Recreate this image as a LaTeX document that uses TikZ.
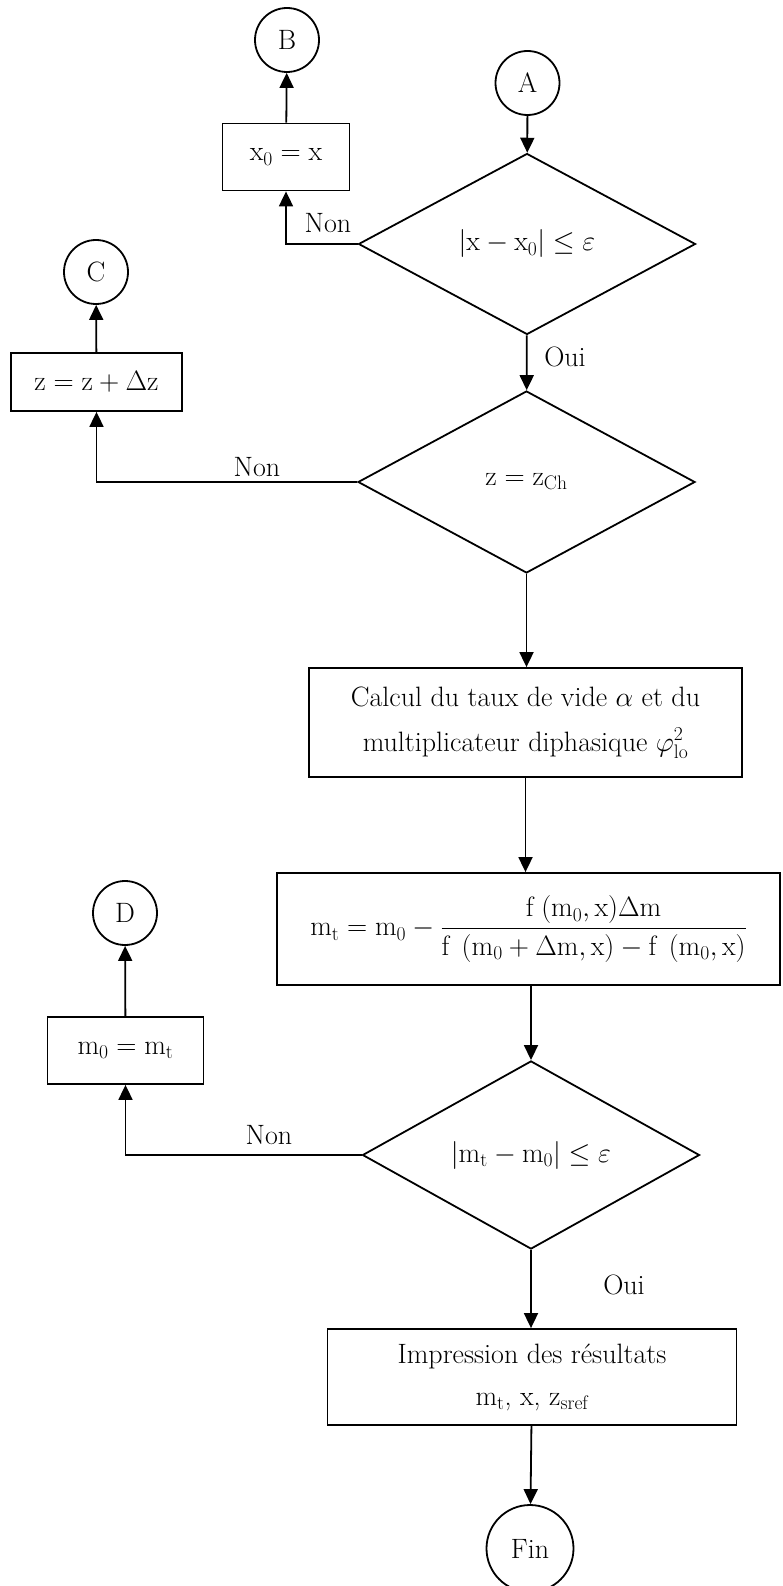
\RequirePackage{fix-cm}
\documentclass[tikz,border=0pt]{standalone}
\usepackage{amsmath}
\usepackage{fontspec}
\usetikzlibrary{shapes.geometric,arrows.meta}
\newcommand\myfs{\fontsize{28}{34}\selectfont}
\begin{document}
\begin{tikzpicture}[x=1pt,y=-1pt,
  line width=1.8pt,
  every node/.style={font=\myfs},
  conn/.style={circle,draw,minimum size=64pt,inner sep=0pt},
  procbox/.style={draw,rectangle,inner sep=0pt,align=center},
  decis/.style={draw,diamond,inner sep=0pt,minimum width=337pt,minimum height=181pt},
  arr/.style={-{Triangle[length=15pt,width=14pt]}},
  lbl/.style={inner sep=0pt}]
\useasboundingbox (0,0) rectangle (782,1586);

% connectors (circles)
\node[conn] (A) at (527.5,83) {A};
\node[conn] (B) at (287,40) {B};
\node[conn] (C) at (96,272) {C};
\node[conn] (D) at (125,913) {D};
\node[conn,minimum size=87pt] (F) at (530,1548.5) {Fin};

% process boxes
\node[procbox,minimum width=127pt,minimum height=67pt] (bx) at (286,157) {$\mathrm{x}_0=\mathrm{x}$};
\node[procbox,minimum width=171pt,minimum height=58pt] (bz) at (96.5,382) {$\mathrm{z}=\mathrm{z}+\Delta\mathrm{z}$};
\node[procbox,minimum width=433pt,minimum height=109pt,font=\fontsize{28}{45}\selectfont] (bc) at (525.5,722.5)
  {Calcul du taux de vide $\alpha$ et du\\multiplicateur diphasique $\varphi^2_{\mathrm{lo}}$};
\node[procbox,minimum width=503pt,minimum height=112pt] (bn) at (528.5,929)
  {$\displaystyle \mathrm{m}_{\mathrm{t}}=\mathrm{m}_0-\frac{\mathrm{f}\;(\mathrm{m}_0,\mathrm{x})\Delta\mathrm{m}}{\mathrm{f}\;\left(\mathrm{m}_0+\Delta\mathrm{m},\mathrm{x}\right)-\mathrm{f}\;\left(\mathrm{m}_0,\mathrm{x}\right)}$};
\node[procbox,minimum width=156pt,minimum height=67pt] (bm) at (125.5,1050.5) {$\mathrm{m}_0=\mathrm{m}_{\mathrm{t}}$};
\node[procbox,minimum width=409pt,minimum height=96pt,font=\fontsize{28}{42}\selectfont] (bi) at (532,1377)
  {Impression des résultats\\m$_{\mathrm{t}}$, x, z$_{\mathrm{sref}}$};

% decisions
\node[decis] (d1) at (527,244) {$\left|\mathrm{x}-\mathrm{x}_0\right|\le\varepsilon$};
\node[decis,minimum height=182pt] (d2) at (526.5,482) {$\mathrm{z}=\mathrm{z}_{\mathrm{Ch}}$};
\node[decis,minimum height=182pt] (d3) at (531,1155) {$\left|\mathrm{m}_{\mathrm{t}}-\mathrm{m}_0\right|\le\varepsilon$};

% labels
\node[lbl] (n1) at (328,223) {Non};
\node[lbl] (o1) at (565,357) {Oui};
\node[lbl] (n2) at (257,467) {Non};
\node[lbl] (n3) at (269,1135) {Non};
\node[lbl] (o2) at (624,1285) {Oui};

% edges
\draw[arr] (A) -- (d1);
\draw[arr] (d1.west) -| (bx.south);
\draw[arr] (bx) -- (B);
\draw[arr] (d1) -- (d2);
\draw[arr] (d2.west) -| (bz.south);
\draw[arr] (bz) -- (C);
\draw[arr] (d2.south) -- (d2.south |- bc.north);
\draw[arr] (bc.south) -- (bc.south |- bn.north);
\draw[arr] (d3.north |- bn.south) -- (d3.north);
\draw[arr] (d3.west) -| (bm.south);
\draw[arr] (bm) -- (D);
\draw[arr] (d3.south) -- (d3.south |- bi.north);
\draw[arr] (bi) -- (F);
\end{tikzpicture}
\end{document}
